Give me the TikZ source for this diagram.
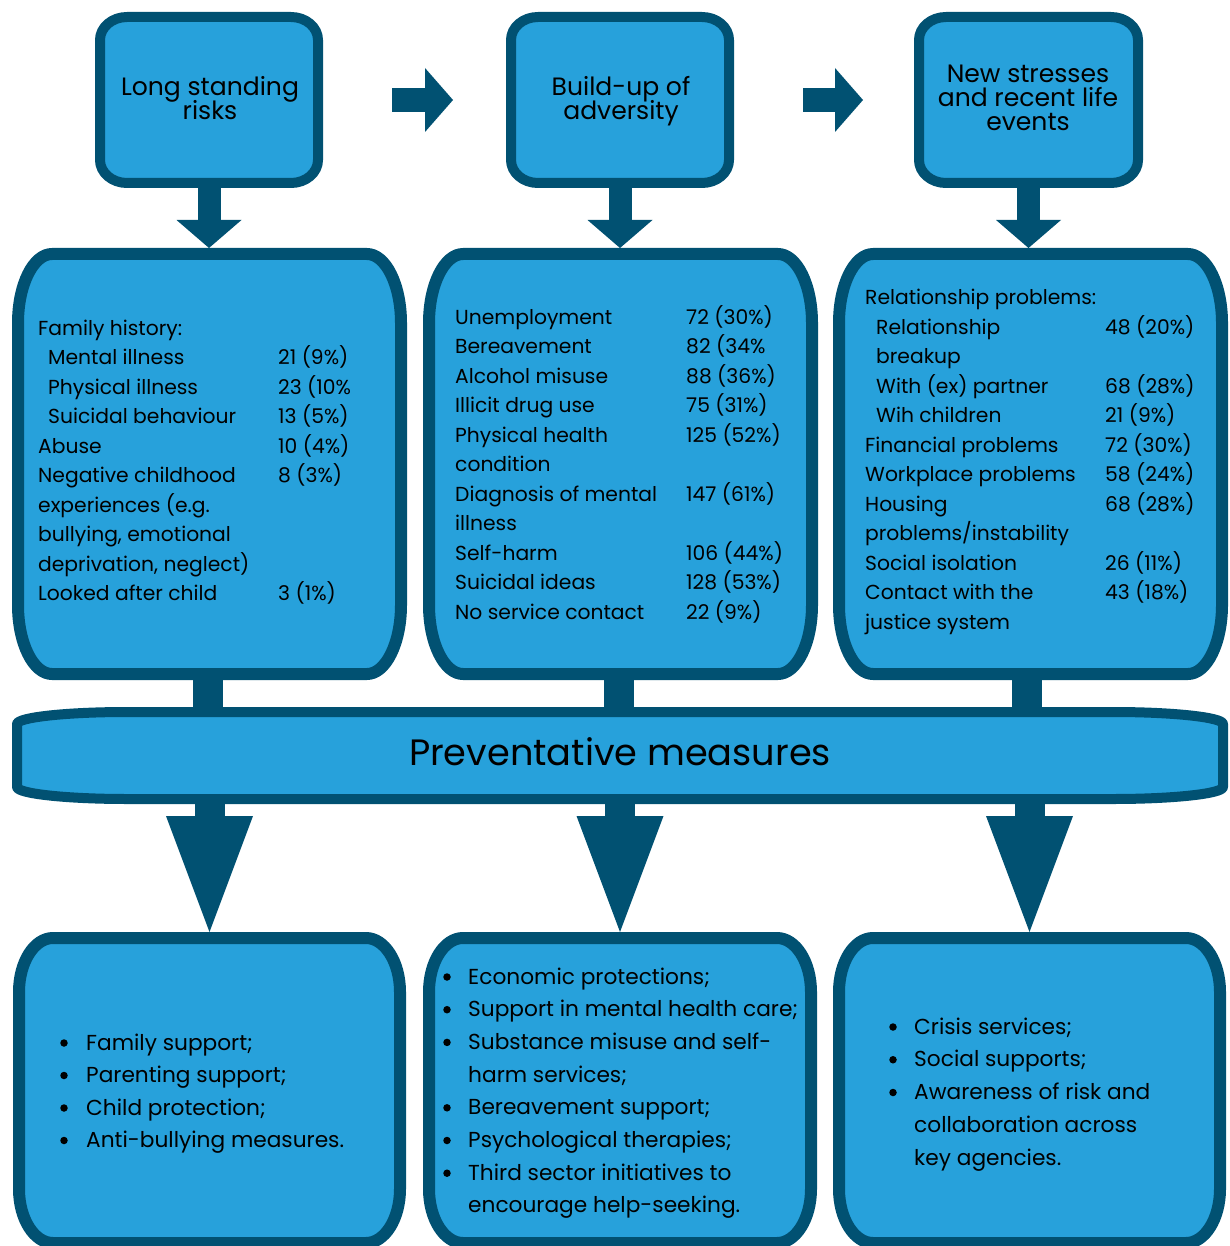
\documentclass[tikz,border=0pt]{standalone}
\usepackage{fontspec}
\setmainfont{Poppins}
\usetikzlibrary{arrows.meta}
\definecolor{lb}{RGB}{39,161,219}
\definecolor{dk}{RGB}{1,81,114}

\newlength\fitlen
\newcommand\fitsize[3]{\settowidth\fitlen{\fontsize{10pt}{12pt}\selectfont #2}\pgfmathsetmacro#1{10*#3/\fitlen}}
\AtBeginDocument{%
  \fitsize\topfs{Long standing}{178}%
  \fitsize\midfs{Relationship problems:}{231}%
  \fitsize\botfs{Support in mental health care;}{330}%
  \fitsize\barfs{Preventative measures}{422}}

% elliptical-corner outline from outer edges: x1 y1 x2 y2 rx ry border
\newcommand\eshape[7]{%
  \pgfmathsetmacro\esAx{#1+#7/2}\pgfmathsetmacro\esAy{#2+#7/2}%
  \pgfmathsetmacro\esBx{#3-#7/2}\pgfmathsetmacro\esBy{#4-#7/2}%
  \pgfmathsetmacro\esRx{#5-#7/2}\pgfmathsetmacro\esRy{#6-#7/2}%
  \pgfmathsetmacro\esKx{0.4477*\esRx}\pgfmathsetmacro\esKy{0.4477*\esRy}%
  \draw[shapeline, line width=#7pt]
    (\esAx+\esRx,\esAy) -- (\esBx-\esRx,\esAy)
    .. controls (\esBx-\esKx,\esAy) and (\esBx,\esAy+\esKy) .. (\esBx,\esAy+\esRy)
    -- (\esBx,\esBy-\esRy)
    .. controls (\esBx,\esBy-\esKy) and (\esBx-\esKx,\esBy) .. (\esBx-\esRx,\esBy)
    -- (\esAx+\esRx,\esBy)
    .. controls (\esAx+\esKx,\esBy) and (\esAx,\esBy-\esKy) .. (\esAx,\esBy-\esRy)
    -- (\esAx,\esAy+\esRy)
    .. controls (\esAx,\esAy+\esKy) and (\esAx+\esKx,\esAy) .. (\esAx+\esRx,\esAy)
    -- cycle;}
% named anchor box: name x1 y1 x2 y2
\newcommand\enode[5]{%
  \node[anchorbox, minimum width={#4-#2}, minimum height={#5-#3}] (#1) at ({(#2+#4)/2},{(#3+#5)/2}) {};}

\begin{document}
\begin{tikzpicture}[x=1pt,y=-1pt,
  shapeline/.style={draw=dk, fill=lb, line join=round},
  anchorbox/.style={inner sep=0pt, outer sep=0pt, draw=none, rectangle},
  toptext/.style={font=\fontsize{\topfs pt}{\topfs pt}\selectfont, anchor=base, inner sep=0pt},
  midtext/.style={font=\fontsize{\midfs pt}{\midfs pt}\selectfont, anchor=base west, inner sep=0pt},
  bottext/.style={font=\fontsize{\botfs pt}{\botfs pt}\selectfont, anchor=base west, inner sep=0pt},
  bulletdot/.style={circle, fill=black, draw=none, inner sep=0pt, minimum size=7.5pt},
  bartext/.style={font=\fontsize{\barfs pt}{\barfs pt}\selectfont, anchor=base, inner sep=0pt},
  dnarrow/.style={draw=dk, line width=23pt, -{Triangle[width=65pt,length=28pt,line width=0pt]}},
  rtarrow/.style={draw=dk, line width=24pt, -{Triangle[width=64pt,length=28pt,line width=0pt]}},
  shaft/.style={draw=dk, line width=30pt},
  bigarrow/.style={draw=dk, line width=30pt, -{Triangle[width=87pt,length=116pt,line width=0pt]}},
]
\useasboundingbox (0,0) rectangle (1229,1246);
\clip (0,0) rectangle (1229,1246);

% ---- shapes ----
\eshape{95}{12}{323}{188}{32}{28}{10}
\eshape{506}{12}{734}{188}{32}{28}{10}
\eshape{914}{12}{1143}{188}{32}{28}{10}

\eshape{12}{248}{407}{680}{40}{75}{12}
\eshape{423}{248}{818}{680}{40}{75}{12}
\eshape{833}{248}{1228}{680}{40}{75}{12}

\eshape{12}{707}{1228}{804}{115}{17}{10}

\eshape{13}{932}{406}{1249}{40}{60}{12}
\eshape{423}{932}{817}{1249}{40}{60}{12}
\eshape{833}{932}{1226}{1249}{40}{60}{12}

% ---- named boxes ----
\enode{t1}{95}{12}{323}{188}
\enode{t2}{506}{12}{734}{188}
\enode{t3}{914}{12}{1143}{188}
\enode{m1}{12}{248}{407}{680}
\enode{m2}{423}{248}{818}{680}
\enode{m3}{833}{248}{1228}{680}
\enode{bar}{12}{707}{1228}{804}
\enode{b1}{13}{932}{406}{1249}
\enode{b2}{423}{932}{817}{1249}
\enode{b3}{833}{932}{1226}{1249}

% ---- connectors ----
\draw[rtarrow, shorten <=69pt, shorten >=53pt] (t1.east) -- (t2.west);
\draw[rtarrow, shorten <=69pt, shorten >=51pt] (t2.east) -- (t3.west);
\draw[dnarrow] (t1.south) -- (t1.south |- m1.north);
\draw[dnarrow] (t2.south) -- (t2.south |- m2.north);
\draw[dnarrow] (t3.south) -- (t3.south |- m3.north);
\draw[shaft] ([xshift=-1.5pt]m1.south) -- ([xshift=-1.5pt]m1.south |- bar.north);
\draw[shaft] ([xshift=-2pt]m2.south) -- ([xshift=-2pt]m2.south |- bar.north);
\draw[shaft] ([xshift=-3.5pt]m3.south) -- ([xshift=-3.5pt]m3.south |- bar.north);
\draw[bigarrow] (b1.north |- bar.south) -- (b1.north);
\draw[bigarrow] (b2.north |- bar.south) -- (b2.north);
\draw[bigarrow] (b3.north |- bar.south) -- (b3.north);

% ---- top texts ----
\node[toptext] (t1a) at (210,96) {Long standing};
\node[toptext] (t1b) at (210,120) {risks};
\node[toptext] (t2a) at (621,96) {Build-up of};
\node[toptext] (t2b) at (621,120) {adversity};
\node[toptext] (t3a) at (1028,83) {New stresses};
\node[toptext] (t3b) at (1028,107) {and recent life};
\node[toptext] (t3c) at (1028,131) {events};

% ---- bar text ----
\node[bartext] (bartxt) at (620,765) {Preventative measures};

% ---- middle box 1 ----
\foreach \i/\dx/\t in {0/0/{Family history:},1/10/{Mental illness},2/10/{Physical illness},
  3/10/{Suicidal behaviour},4/0/{Abuse},5/0/{Negative childhood},6/0/{experiences (e.g.},
  7/0/{bullying, emotional},8/0/{deprivation, neglect)},9/0/{Looked after child}}
  \node[midtext] (m1l\i) at (38+\dx,335+29.5*\i) {\t};
\foreach \i/\t in {1/{21 (9\%)},2/{23 (10\%},3/{13 (5\%)},4/{10 (4\%)},5/{8 (3\%)},9/{3 (1\%)}}
  \node[midtext] (m1r\i) at (278,335+29.5*\i) {\t};

% ---- middle box 2 ----
\foreach \i/\t in {0/{Unemployment},1/{Bereavement},2/{Alcohol misuse},3/{Illicit drug use},
  4/{Physical health},5/{condition},6/{Diagnosis of mental},7/{illness},8/{Self-harm},
  9/{Suicidal ideas},10/{No service contact}}
  \node[midtext] (m2l\i) at (455,324+29.5*\i) {\t};
\foreach \i/\t in {0/{72 (30\%)},1/{82 (34\%},2/{88 (36\%)},3/{75 (31\%)},4/{125 (52\%)},
  6/{147 (61\%)},8/{106 (44\%)},9/{128 (53\%)},10/{22 (9\%)}}
  \node[midtext] (m2r\i) at (686,324+29.5*\i) {\t};

% ---- middle box 3 ----
\foreach \i/\dx/\t in {0/0/{Relationship problems:},1/11/{Relationship},2/11/{breakup},
  3/11/{With (ex) partner},4/11/{Wih children},5/0/{Financial problems},6/0/{Workplace problems},
  7/0/{Housing},8/0/{problems\slash instability},9/0/{Social isolation},10/0/{Contact with the},
  11/0/{justice system}}
  \node[midtext] (m3l\i) at (865+\dx,304.5+29.5*\i) {\t};
\foreach \i/\t in {1/{48 (20\%)},3/{68 (28\%)},4/{21 (9\%)},5/{72 (30\%)},6/{58 (24\%)},
  7/{68 (28\%)},9/{26 (11\%)},10/{43 (18\%)}}
  \node[midtext] (m3r\i) at (1105,304.5+29.5*\i) {\t};

% ---- bottom box 1 ----
\foreach \i/\t in {0/{Family support;},1/{Parenting support;},2/{Child protection;},3/{Anti-bullying measures.}}
  \node[bottext] (b1l\i) at (86,1050+32.5*\i) {\t};
\foreach \i in {0,1,2,3}
  \node[bulletdot] (b1d\i) at (64,1043+32.5*\i) {};

% ---- bottom box 2 ----
\foreach \i/\t in {0/{Economic protections;},1/{Support in mental health care;},
  2/{Substance misuse and self-},3/{harm services;},4/{Bereavement support;},
  5/{Psychological therapies;},6/{Third sector initiatives to},7/{encourage help-seeking.}}
  \node[bottext] (b2l\i) at (468,984+32.7*\i) {\t};
\foreach \i in {0,1,2,4,5,6}
  \node[bulletdot] (b2d\i) at (447,977+32.7*\i) {};

% ---- bottom box 3 ----
\foreach \i/\t in {0/{Crisis services;},1/{Social supports;},2/{Awareness of risk and},
  3/{collaboration across},4/{key agencies.}}
  \node[bottext] (b3l\i) at (914,1034+32.75*\i) {\t};
\foreach \i in {0,1,2}
  \node[bulletdot] (b3d\i) at (893,1027+32.75*\i) {};
\end{tikzpicture}
\end{document}
